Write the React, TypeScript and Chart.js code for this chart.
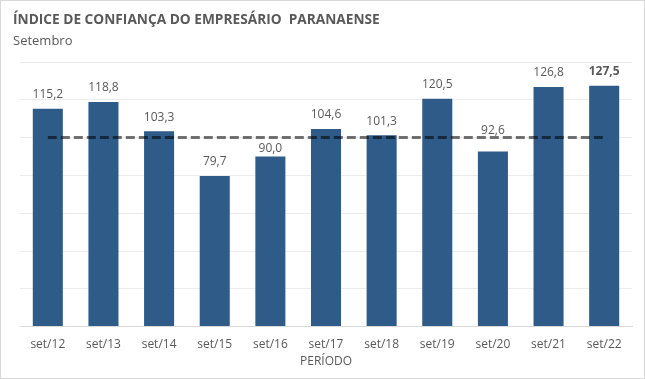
import React, { useEffect, useRef } from "react";
import { Chart, registerables } from "chart.js";

Chart.register(...registerables);

const categories = ["set/12", "set/13", "set/14", "set/15", "set/16", "set/17", "set/18", "set/19", "set/20", "set/21", "set/22"];
const values = [115.2, 118.8, 103.3, 79.7, 90.0, 104.6, 101.3, 120.5, 92.6, 126.8, 127.5];
const reference = [100, 100, 100, 100, 100, 100, 100, 100, 100, 100, 100];
const titleText = "ÍNDICE DE CONFIANÇA DO EMPRESÁRIO  PARANAENSE";
const subtitleText = "Setembro";
const xTitle = "PERÍODO";

const FONT = "'Open Sans', 'Noto Sans', sans-serif";
const GRAY = "#595959";

const decorPlugin = {
  id: "decor",
  beforeDraw(chart: any) {
    const ctx = chart.ctx;
    ctx.save();
    ctx.fillStyle = "#ffffff";
    ctx.fillRect(0, 0, chart.width, chart.height);
    ctx.restore();
  },
  afterDraw(chart: any) {
    const ctx = chart.ctx;
    const area = chart.chartArea;
    ctx.save();
    ctx.strokeStyle = "#d9d9d9";
    ctx.lineWidth = 1;
    ctx.strokeRect(0.5, 0.5, chart.width - 1, chart.height - 1);
    ctx.fillStyle = GRAY;
    ctx.textBaseline = "middle";
    ctx.textAlign = "left";
    ctx.font = `bold 13.7px ${FONT}`;
    ctx.fillText(titleText, 13, 20);
    ctx.font = `13px ${FONT}`;
    ctx.fillText(subtitleText, 13, 41);
    ctx.textAlign = "center";
    ctx.font = `12px ${FONT}`;
    ctx.fillText(xTitle, (area.left + area.right) / 2, area.bottom + 35);
    ctx.restore();
  },
};

const labelPlugin = {
  id: "barLabels",
  afterDatasetsDraw(chart: any) {
    const ctx = chart.ctx;
    const meta = chart.getDatasetMeta(1);
    const lineY = chart.scales.y.getPixelForValue(reference[0]);
    ctx.save();
    ctx.fillStyle = GRAY;
    ctx.textAlign = "center";
    ctx.textBaseline = "middle";
    meta.data.forEach((bar: any, i: number) => {
      const last = i === values.length - 1;
      let c = bar.y - 14;
      if (Math.abs(c - lineY) < 10) {
        c = c >= lineY + 3 ? lineY + 11 : lineY - 7;
      }
      ctx.font = `${last ? "bold " : ""}12px ${FONT}`;
      ctx.fillText(values[i].toFixed(1).replace(".", ","), bar.x, c);
    });
    ctx.restore();
  },
};

export default function App() {
  const ref = useRef<HTMLCanvasElement>(null);
  useEffect(() => {
    document.body.style.margin = "0";
    const chart = new Chart(ref.current!, {
      type: "bar",
      data: {
        labels: categories,
        datasets: [
          {
            type: "line",
            data: reference,
            borderColor: "rgba(0,0,0,0.55)",
            borderWidth: 3,
            borderDash: [9, 4],
            pointRadius: 0,
            fill: false,
            order: 0,
          } as any,
          {
            type: "bar",
            data: values,
            backgroundColor: "#2f5b89",
            barPercentage: 0.54,
            categoryPercentage: 1,
            order: 1,
          },
        ],
      },
      options: {
        responsive: false,
        animation: false,
        layout: { padding: { top: 62, left: 20, right: 13, bottom: 24 } },
        plugins: { legend: { display: false }, tooltip: { enabled: false }, title: { display: false } },
        scales: {
          x: {
            grid: { display: false },
            border: { color: "#d9d9d9" },
            ticks: { color: GRAY, font: { family: FONT, size: 12 }, padding: 3 },
          },
          y: {
            min: 0,
            max: 140,
            ticks: { display: false, stepSize: 20 },
            border: { display: false },
            grid: { color: "#ececec", drawTicks: false },
          },
        },
      },
      plugins: [decorPlugin, labelPlugin],
    });
    return () => chart.destroy();
  }, []);
  return <canvas ref={ref} width={645} height={379} style={{ display: "block" }} />;
}
